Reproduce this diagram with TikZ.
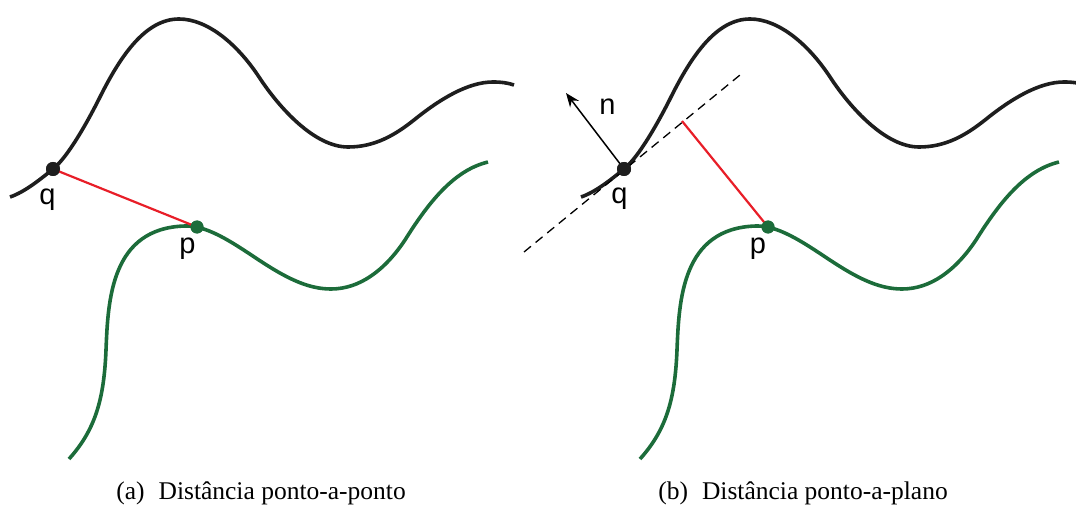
\documentclass[tikz,border=0pt]{standalone}
\usepackage{fontspec}
\setmainfont{Liberation Serif}
\newfontfamily\labfont{Liberation Sans}
\usetikzlibrary{arrows.meta}
\definecolor{curvegreen}{RGB}{28,108,58}
\definecolor{distred}{RGB}{232,30,40}
\definecolor{curveblack}{RGB}{30,30,30}
\tikzset{
  surfq/.style={draw=curveblack, line width=3.6pt},
  surfp/.style={draw=curvegreen, line width=3.6pt},
  distline/.style={draw=distred, line width=2.2pt},
  qdot/.style={circle, fill=curveblack, inner sep=0pt, minimum size=14pt},
  pdot/.style={circle, fill=curvegreen, inner sep=0pt, minimum size=13pt},
  ptlabel/.style={font=\labfont\fontsize{29}{34}\selectfont, anchor=base, inner sep=0pt},
  caplabel/.style={font=\fontsize{25.5}{30}\selectfont, anchor=base, inner sep=0pt},
  tangent/.style={draw=black, line width=1.3pt, dash pattern=on 9pt off 6pt},
  normalarrow/.style={draw=black, line width=1.5pt, -{Stealth[length=14pt,width=11pt]}}
}
\newcommand{\blackcurve}{%
  (10,197) .. controls (25,192) and (42,178) .. (53,169)
  .. controls (68,157) and (88,121) .. (100,97)
  .. controls (120,57) and (145,19) .. (179,19)
  .. controls (208,19) and (238,45) .. (259,77)
  .. controls (280,109) and (315,147) .. (348,147)
  .. controls (375,147) and (395,135) .. (414,120)
  .. controls (440,99) and (468,82) .. (493,82)
  .. controls (502,82) and (508,83) .. (514,85)}
\newcommand{\greencurve}{%
  (69,459) .. controls (95,430) and (104,400) .. (106,350)
  .. controls (108,300) and (111,228) .. (185,226)
  .. controls (210,225) and (240,248) .. (265,264)
  .. controls (290,280) and (310,289) .. (331,289)
  .. controls (360,289) and (385,270) .. (405,240)
  .. controls (430,200) and (455,170) .. (488,162)}
\begin{document}
\begin{tikzpicture}[x=1pt,y=-1pt]
\useasboundingbox (0,0) rectangle (1076,505);
\begin{scope}
\clip (0,0) rectangle (1076,505);
% ---------- panel (a)
\draw[surfq] \blackcurve;
\draw[surfp] \greencurve;
\node[qdot] (q1) at (53,169) {};
\node[pdot] (p1) at (197,227) {};
\draw[distline] (q1.center) -- (p1.center);
\node[qdot] at (q1) {};
\node[pdot] at (p1) {};
\node[ptlabel] (lq1) at (47.5,205) {q};
\node[ptlabel] (lp1) at (187.5,253) {p};
% ---------- panel (b)
\begin{scope}[xshift=571pt]
\draw[surfq] \blackcurve;
\draw[surfp] \greencurve;
\end{scope}
\coordinate (t1) at (524,252);
\coordinate (t2) at (740,75);
\coordinate (foot) at (682,121);
\coordinate (ntip) at (566,93);
\node[qdot] (q2) at (624,169) {};
\node[pdot] (p2) at (768,227) {};
\draw[tangent] (t1) -- (t2);
\draw[normalarrow] (q2.center) -- (ntip);
\draw[distline] (foot) -- (p2.center);
\node[qdot] at (q2) {};
\node[pdot] at (p2) {};
\node[ptlabel] (lq2) at (619.5,204) {q};
\node[ptlabel] (lp2) at (758,254) {p};
\node[ptlabel] (ln) at (607.5,115) {n};
\end{scope}
% captions
\node[caplabel] (capa) at (261,499) {(a)\hspace{0.55em}Distância ponto-a-ponto};
\node[caplabel] (capb) at (803,499) {(b)\hspace{0.55em}Distância ponto-a-plano};
\end{tikzpicture}
\end{document}
